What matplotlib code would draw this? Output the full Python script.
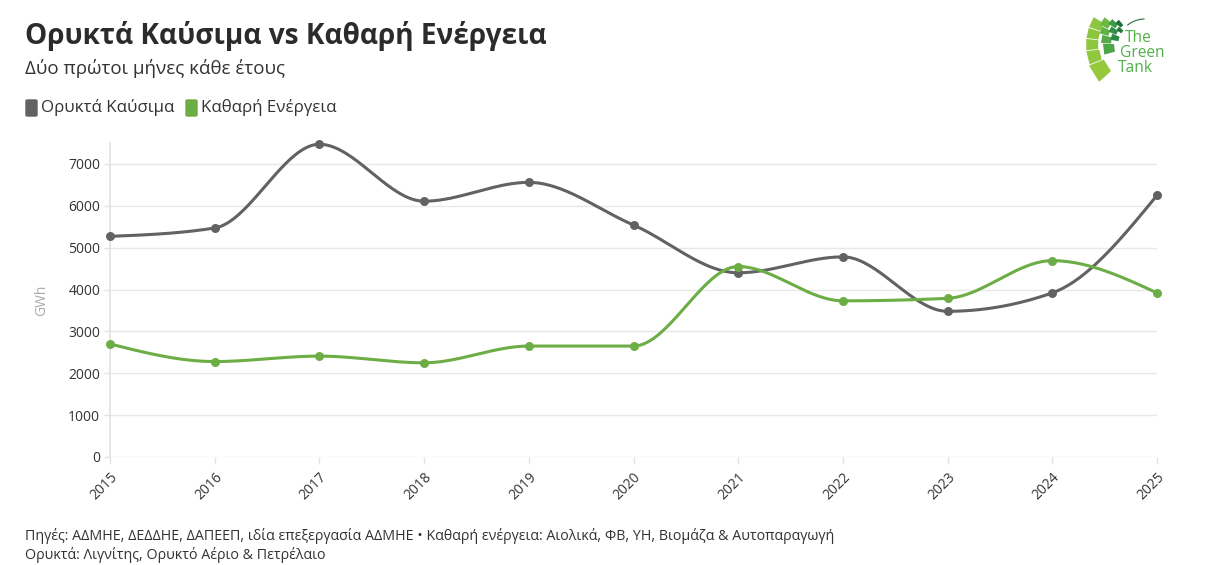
import numpy as np
import matplotlib
matplotlib.use('Agg')
import matplotlib.pyplot as plt
from matplotlib.patches import FancyBboxPatch, Polygon

plt.rcParams['font.family'] = ['Open Sans', 'DejaVu Sans']

years = [2015, 2016, 2017, 2018, 2019, 2020, 2021, 2022, 2023, 2024, 2025]
fossil = [5270, 5470, 7470, 6110, 6560, 5540, 4400, 4780, 3480, 3920, 6250]
clean = [2700, 2280, 2410, 2250, 2650, 2650, 4550, 3730, 3790, 4690, 3920]
yticks = [0, 1000, 2000, 3000, 4000, 5000, 6000, 7000]

GREY = '#626262'
GREEN = '#6cad45'


def monotone_x(x, y, n=40):
    # d3 curveMonotoneX style interpolation for drawing the line
    x = np.asarray(x, float)
    y = np.asarray(y, float)
    h = np.diff(x)
    s = np.diff(y) / h
    m = np.zeros_like(y)
    for i in range(1, len(y) - 1):
        if s[i - 1] * s[i] <= 0:
            m[i] = 0
        else:
            p = (s[i - 1] * h[i] + s[i] * h[i - 1]) / (h[i - 1] + h[i])
            m[i] = (np.sign(s[i - 1]) + np.sign(s[i])) * min(abs(s[i - 1]), abs(s[i]), 0.5 * abs(p))
    m[0] = (3 * s[0] - m[1]) / 2
    m[-1] = (3 * s[-1] - m[-2]) / 2
    xs, ys = [], []
    for i in range(len(h)):
        t = np.linspace(0, 1, n)
        h00 = 2 * t**3 - 3 * t**2 + 1
        h10 = t**3 - 2 * t**2 + t
        h01 = -2 * t**3 + 3 * t**2
        h11 = t**3 - t**2
        xs.append(x[i] + t * h[i])
        ys.append(h00 * y[i] + h10 * h[i] * m[i] + h01 * y[i + 1] + h11 * h[i] * m[i + 1])
    return np.concatenate(xs), np.concatenate(ys)


fig = plt.figure(figsize=(12.16, 5.65), dpi=100)
ax = fig.add_axes([110 / 1216, 108 / 565, 1047 / 1216, 314 / 565])

for vals, col in [(fossil, GREY), (clean, GREEN)]:
    sx, sy = monotone_x(years, vals)
    ax.plot(sx, sy, color=col, lw=2.2, solid_capstyle='round', zorder=3, clip_on=False)
    ax.scatter(years, vals, s=42, color=col, zorder=4, linewidths=0, clip_on=False)

ax.set_xlim(2015, 2025)
ax.set_ylim(0, 7500)
ax.set_yticks(yticks)
ax.set_yticklabels([str(v) for v in yticks], fontsize=10, color='#333333')
ax.set_xticks(years)
ax.set_xticklabels([str(y) for y in years], fontsize=10, color='#333333',
                   rotation=45, ha='right', rotation_mode='anchor')
ax.tick_params(axis='x', length=5, color='#e2e2e2', width=1, pad=4)
ax.tick_params(axis='y', length=4, color='#e2e2e2', width=1, pad=3)
ax.grid(axis='y', color='#e8e8e8', lw=1)
ax.set_axisbelow(True)
for sp in ['top', 'right', 'bottom']:
    ax.spines[sp].set_visible(False)
ax.spines['left'].set_color('#e2e2e2')
ax.spines['left'].set_linewidth(1.2)
ax.set_ylabel('GWh', color='#aaaaaa', fontsize=10, labelpad=14)

# title, subtitle, legend
fig.text(25 / 1216, 1 - 36 / 565, 'Ορυκτά Καύσιμα vs Καθαρή Ενέργεια', fontsize=20.2,
         fontweight='bold', color='#2b2b2b', va='center')
fig.text(25 / 1216, 1 - 68 / 565, 'Δύο πρώτοι μήνες κάθε έτους', fontsize=13.5,
         color='#333333', va='center')

for x0, col, lab in [(26, GREY, 'Ορυκτά Καύσιμα'), (186, GREEN, 'Καθαρή Ενέργεια')]:
    fig.patches.append(FancyBboxPatch((x0 / 1216, 1 - 116 / 565), 11 / 1216, 16 / 565,
                                      boxstyle='round,pad=0,rounding_size=0.0015',
                                      transform=fig.transFigure, color=col))
    fig.text((x0 + 15) / 1216, 1 - 108 / 565, lab, fontsize=12.2, color='#333333', va='center')

# footer
fig.text(25 / 1216, 1 - 536 / 565,
         'Πηγές: ΑΔΜΗΕ, ΔΕΔΔΗΕ, ΔΑΠΕΕΠ, ιδία επεξεργασία ΑΔΜΗΕ • Καθαρή ενέργεια: Αιολικά, ΦΒ, ΥΗ, Βιομάζα & Αυτοπαραγωγή',
         fontsize=10.3, color='#333333', va='center')
fig.text(25 / 1216, 1 - 555 / 565, 'Ορυκτά: Λιγνίτης, Ορυκτό Αέριο & Πετρέλαιο',
         fontsize=10.3, color='#333333', va='center')

# logo (approximation), axes in pixel coordinates with y pointing down
lax = fig.add_axes([1075 / 1216, 1 - 88 / 565, 100 / 1216, 78 / 565])
lax.set_xlim(1075, 1175)
lax.set_ylim(88, 10)
lax.axis('off')
cx, cy = 1140, 45
# (angle0, angle1, r0, r1, colour)
tiles = [
    (199.5, 211, 42, 54, '#8cc63f'), (187.5, 198.5, 42, 54, '#8cc63f'),
    (174.5, 186.5, 42, 54, '#8cc63f'), (159, 173.5, 41, 54, '#8fc73e'),
    (138, 158, 39, 55, '#94c93c'),
    (207, 218, 36, 45, '#6db843'), (196, 206, 33, 42, '#62b145'),
    (183, 195, 29, 39, '#57aa47'), (165, 182, 26, 37, '#4ca547'),
    (214, 223, 30, 38, '#3d9a46'), (203, 213, 26, 34, '#319043'),
    (190, 202, 22, 30, '#2a8a44'),
    (222, 230, 26, 33, '#1e6f3b'), (212, 221, 22, 28, '#237a3f'),
]
for a0, a1, r0, r1, c in tiles:
    t0, t1 = np.radians(a0), np.radians(a1)
    pts = [(cx + r0 * np.cos(t0), cy + r0 * np.sin(t0)),
           (cx + r1 * np.cos(t0), cy + r1 * np.sin(t0)),
           (cx + r1 * np.cos(t1), cy + r1 * np.sin(t1)),
           (cx + r0 * np.cos(t1), cy + r0 * np.sin(t1))]
    lax.add_patch(Polygon(pts, closed=True, color=c, lw=0))
arc_t = np.radians(np.linspace(232, 268, 20))
lax.plot(cx + 5 + 28 * np.cos(arc_t), cy + 2 + 28 * np.sin(arc_t), color='#1e6f3b', lw=0.8)
lax.text(1125, 38, 'The', fontsize=11.2, color='#52b04a', va='center')
lax.text(1120, 53, 'Green', fontsize=11.2, color='#52b04a', va='center')
lax.text(1118, 68, 'Tank', fontsize=11.2, color='#52b04a', va='center')

fig.savefig('out.png', dpi=100, facecolor='white')
